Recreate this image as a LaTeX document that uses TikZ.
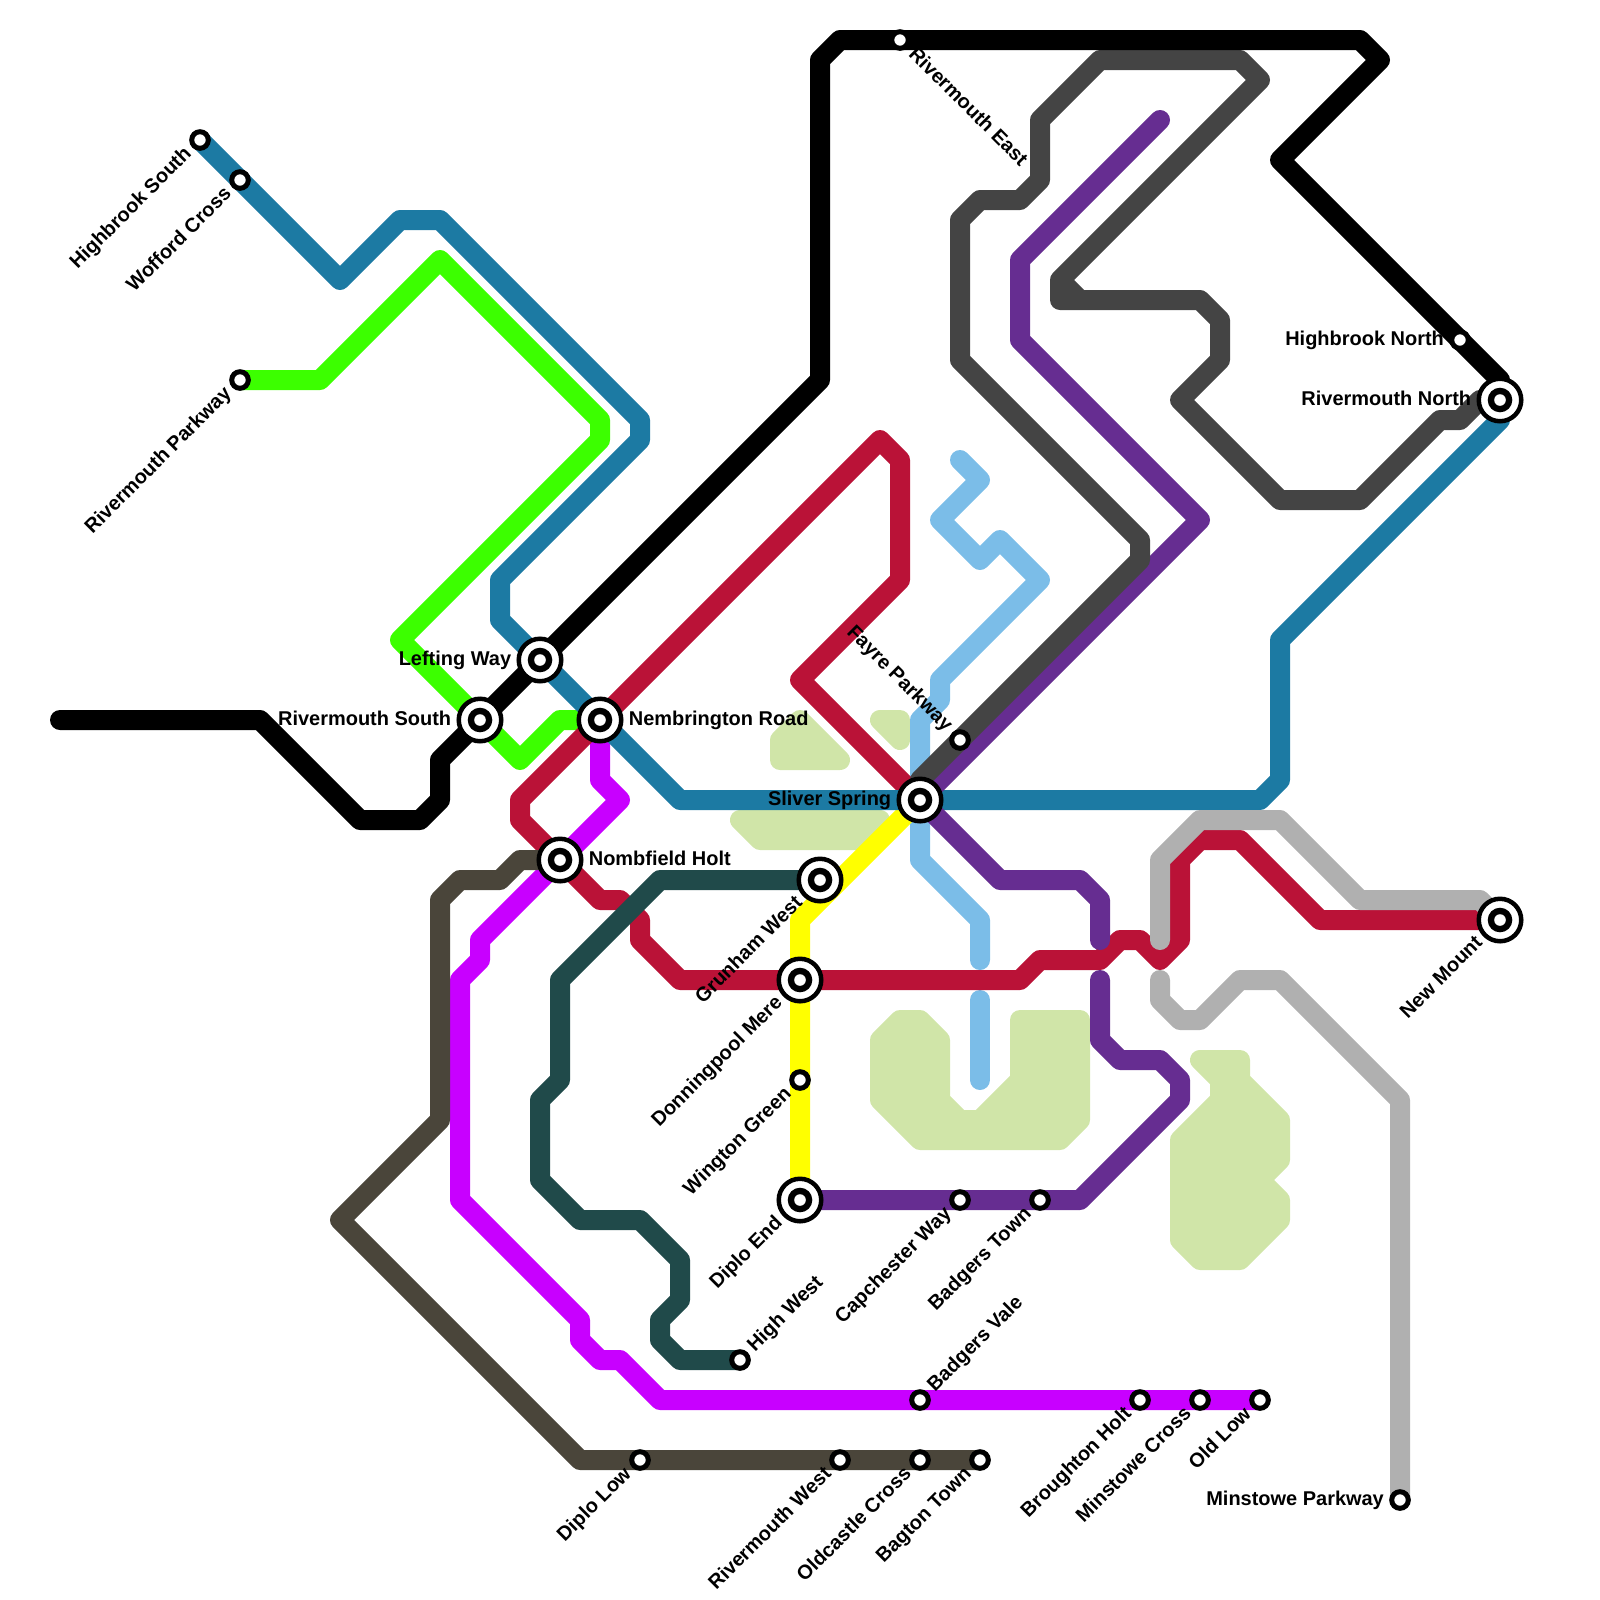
\documentclass[tikz,border=0pt]{standalone}
\usepackage{fontspec}
\setmainfont{Liberation Sans}
\usetikzlibrary{backgrounds}
\definecolor{tealblue}{HTML}{1C7AA3}
\definecolor{limeline}{HTML}{3CFF00}
\definecolor{crimson}{HTML}{BA1237}
\definecolor{violet}{HTML}{C800FF}
\definecolor{umber}{HTML}{4A453A}
\definecolor{deepteal}{HTML}{204A4A}
\definecolor{plum}{HTML}{662D91}
\definecolor{slate}{HTML}{444444}
\definecolor{skyline}{HTML}{7BBDE8}
\definecolor{silver}{HTML}{B0B0B0}
\definecolor{parkgreen}{HTML}{D0E5A8}
\definecolor{sunline}{HTML}{FFFF00}
\tikzset{
  metro/.style={line width=.5cm, line join=round, line cap=round},
  park/.style={fill=parkgreen, draw=parkgreen, line width=.5cm, line join=round},
  smallstop/.style={circle, draw=black, fill=white, line width=.125cm, minimum size=.415cm, inner sep=0pt},
  bigstop/.style={circle, draw=black, fill=white, line width=.1125cm, minimum size=1.0625cm, inner sep=0pt,
    path picture={\fill[black] (path picture bounding box.center) circle (.3075cm);
      \fill[white] (path picture bounding box.center) circle (.145cm);}},
  stoplabel/.style={font=\fontsize{14.2pt}{16pt}\bfseries, inner sep=3.6pt, text height=10.3pt, text depth=3pt}
}
\begin{document}
\begin{tikzpicture}[x=.5cm, y=-.5cm]
\useasboundingbox (0,0) rectangle (80,80);
\node[smallstop] (hs) at (10,7) {};
\node[smallstop] (wc) at (12,9) {};
\node[smallstop] (rp) at (12,19) {};
\node[bigstop] (lw) at (27,33) {};
\node[bigstop] (rs) at (24,36) {};
\node[bigstop] (nr) at (30,36) {};
\node[bigstop] (ss) at (46,40) {};
\node[bigstop] (nh) at (28,43) {};
\node[bigstop] (gw) at (41,44) {};
\node[bigstop] (dm) at (40,49) {};
\node[smallstop] (wg) at (40,54) {};
\node[bigstop] (de) at (40,60) {};
\node[smallstop] (cw) at (48,60) {};
\node[smallstop] (bt) at (52,60) {};
\node[smallstop] (hw) at (37,68) {};
\node[smallstop] (bv) at (46,70) {};
\node[smallstop] (bh) at (57,70) {};
\node[smallstop] (mc) at (60,70) {};
\node[smallstop] (ol) at (63,70) {};
\node[smallstop] (dl) at (32,73) {};
\node[smallstop] (rw) at (42,73) {};
\node[smallstop] (oc) at (46,73) {};
\node[smallstop] (gt) at (49,73) {};
\node[smallstop] (mp) at (70,75) {};
\node[bigstop] (nm) at (75,46) {};
\node[bigstop] (rn) at (75,20) {};
\node[smallstop] (hn) at (73,17) {};
\node[smallstop] (re) at (45,2) {};
\node[smallstop] (fp) at (48,37) {};
\coordinate (bkend) at (3,36);
\coordinate (plend) at (58,6);
\coordinate (skend) at (48,23);
\coordinate (skgap) at (49,48);
\coordinate (skfoot) at (49,54);
\begin{pgfonlayer}{background}
\draw[park] (60,53) -- (62,53) -- (62,54) -- (64,56) -- (64,58) -- (63,59) -- (64,60) -- (64,61) -- (62,63) -- (60,63) -- (59,62) -- (59,57) -- (61,55) -- (61,54) -- cycle;
\draw[park] (44,52) -- (45,51) -- (46,51) -- (47,52) -- (47,55) -- (48,56) -- (49,56) -- (51,54) -- (51,51) -- (54,51) -- (54,56) -- (53,57) -- (46,57) -- (44,55) -- cycle;
\draw[park] (39,38) -- (42,38) -- (40,36) -- (39,37) -- cycle;
\draw[park] (44,36) -- (45,36) -- (45,37) -- cycle;
\draw[park] (37,41) -- (38,42) -- (43,42) -- (44,41) -- cycle;
\draw[metro, skyline] (skend) -- (49,24) -- (47,26) -- (49,28) -- (50,27) -- (52,29) -- (47,34) -- (47,35) -- (46,36) -- (ss.center) -- (46,43) -- (49,46) -- (skgap);
\draw[metro, skyline] (49,50) -- (skfoot);
\draw[metro, violet] (nr.center) -- (30,39) -- (31,40) -- (nh.center) -- (24,47) -- (24,48) -- (23,49) -- (23,60) -- (29,66) -- (29,67) -- (30,68) -- (31,68) -- (33,70) -- (bv.center) -- (bh.center) -- (mc.center) -- (ol.center);
\draw[metro, limeline] (rp.center) -- (16,19) -- (22,13) -- (30,21) -- (30,22) -- (20,32) -- (rs.center) -- (26,38) -- (28,36) -- (nr.center);
\draw[metro, crimson] (ss.center) -- (40,34) -- (45,29) -- (45,23) -- (44,22) -- (nr.center) -- (26,40) -- (26,41) -- (nh.center) -- (30,45) -- (31,45) -- (32,46) -- (32,47) -- (34,49) -- (dm.center) -- (51,49) -- (52,48) -- (55,48) -- (56,47) -- (57,47) -- (58,48) -- (59,47) -- (59,43) -- (60,42) -- (62,42) -- (66,46) -- (nm.center);
\draw[metro, sunline] (ss.center) -- (40,46) -- (dm.center) -- (wg.center) -- (de.center);
\draw[metro, tealblue] (hs.center) -- (wc.center) -- (17,14) -- (20,11) -- (22,11) -- (32,21) -- (32,22) -- (25,29) -- (25,31) -- (lw.center) -- (nr.center) -- (34,40) -- (63,40) -- (64,39) -- (64,32) -- (75,21) -- (rn.center);
\draw[metro, deepteal] (gw.center) -- (33,44) -- (28,49) -- (28,54) -- (27,55) -- (27,59) -- (29,61) -- (32,61) -- (34,63) -- (34,65) -- (33,66) -- (33,67) -- (34,68) -- (hw.center);
\draw[metro, umber] (nh.center) -- (26,43) -- (25,44) -- (23,44) -- (22,45) -- (22,56) -- (17,61) -- (29,73) -- (dl.center) -- (rw.center) -- (oc.center) -- (gt.center);
\draw[metro, plum] (de.center) -- (cw.center) -- (bt.center) -- (54,60) -- (59,55) -- (59,54) -- (58,53) -- (56,53) -- (55,52) -- (55,49);
\draw[metro, plum] (55,47) -- (55,45) -- (54,44) -- (50,44) -- (ss.center) -- (60,26) -- (51,17) -- (51,13) -- (plend);
\draw[metro, silver] (nm.center) -- (74,45) -- (68,45) -- (64,41) -- (60,41) -- (58,43) -- (58,47);
\draw[metro, silver] (58,49) -- (58,50) -- (59,51) -- (60,51) -- (62,49) -- (64,49) -- (70,55) -- (mp.center);
\draw[metro, slate] (ss.center) -- (46,39) -- (fp.center) -- (57,28) -- (57,27) -- (48,18) -- (48,11) -- (49,10) -- (51,10) -- (52,9) -- (52,6) -- (55,3) -- (62,3) -- (63,4) -- (53,14) -- (53,15) -- (54,15) -- (53,14) -- (54,15) -- (60,15) -- (61,16) -- (61,18) -- (59,20) -- (64,25) -- (68,25) -- (72,21) -- (73,21) -- (74,20) -- (rn.center);
\draw[metro, black] (bkend) -- (13,36) -- (18,41) -- (21,41) -- (22,40) -- (22,38) -- (rs.center) -- (lw.center) -- (41,19) -- (41,3) -- (42,2) -- (re.center) -- (68,2) -- (69,3) -- (64,8) -- (hn.center) -- (75,19) -- (rn.center);
\end{pgfonlayer}
\node[stoplabel, rotate=45, anchor=east] (hsl) at (hs.south west) {Highbrook South};
\node[stoplabel, rotate=45, anchor=east] (wcl) at (wc.south west) {Wofford Cross};
\node[stoplabel, rotate=45, anchor=east] (rpl) at (rp.south west) {Rivermouth Parkway};
\node[stoplabel, anchor=east] (lwl) at (lw.west) {Lefting Way};
\node[stoplabel, anchor=east] (rsl) at (rs.west) {Rivermouth South};
\node[stoplabel, anchor=west] (nrl) at (nr.east) {Nembrington Road};
\node[stoplabel, anchor=east] (ssl) at (ss.west) {Sliver Spring};
\node[stoplabel, anchor=west] (nhl) at (nh.east) {Nombfield Holt};
\node[stoplabel, rotate=45, anchor=east] (gwl) at (gw.south west) {Grunham West};
\node[stoplabel, rotate=45, anchor=east] (dml) at (dm.south west) {Donningpool Mere};
\node[stoplabel, rotate=45, anchor=east] (wgl) at (wg.south west) {Wington Green};
\node[stoplabel, rotate=45, anchor=east] (del) at (de.south west) {Diplo End};
\node[stoplabel, rotate=45, anchor=east] (cwl) at (cw.south west) {Capchester Way};
\node[stoplabel, rotate=45, anchor=east] (btl) at (bt.south west) {Badgers Town};
\node[stoplabel, rotate=45, anchor=west] (hwl) at (hw.north east) {High West};
\node[stoplabel, rotate=45, anchor=west] (bvl) at (bv.north east) {Badgers Vale};
\node[stoplabel, rotate=45, anchor=east] (bhl) at (bh.south west) {Broughton Holt};
\node[stoplabel, rotate=45, anchor=east] (mcl) at (mc.south west) {Minstowe Cross};
\node[stoplabel, rotate=45, anchor=east] (oll) at (ol.south west) {Old Low};
\node[stoplabel, rotate=45, anchor=east] (dll) at (dl.south west) {Diplo Low};
\node[stoplabel, rotate=45, anchor=east] (rwl) at (rw.south west) {Rivermouth West};
\node[stoplabel, rotate=45, anchor=east] (ocl) at (oc.south west) {Oldcastle Cross};
\node[stoplabel, rotate=45, anchor=east] (gtl) at (gt.south west) {Bagton Town};
\node[stoplabel, anchor=east] (mpl) at (mp.west) {Minstowe Parkway};
\node[stoplabel, rotate=45, anchor=east] (nml) at (nm.south west) {New Mount};
\node[stoplabel, anchor=east] (rnl) at (rn.west) {Rivermouth North};
\node[stoplabel, anchor=east] (hnl) at (hn.west) {Highbrook North};
\node[stoplabel, rotate=-45, anchor=west] (rel) at (re.south east) {Rivermouth East};
\node[stoplabel, rotate=-45, anchor=east] (fpl) at (fp.north west) {Fayre Parkway};
\end{tikzpicture}
\end{document}
